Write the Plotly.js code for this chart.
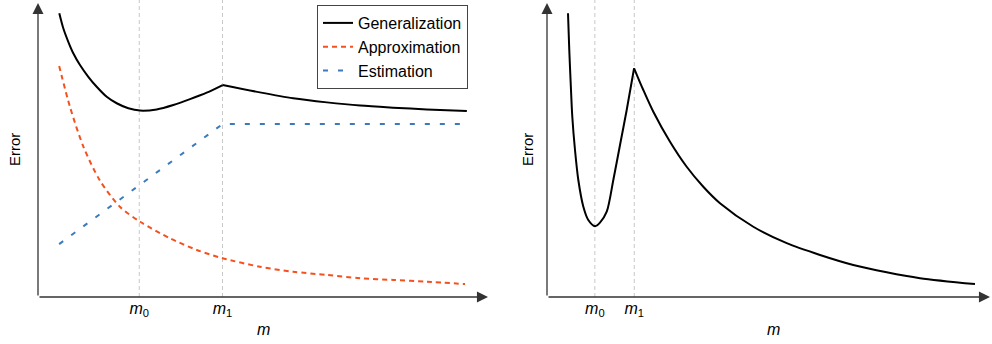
<!DOCTYPE html>
<html>
<head>
<meta charset="utf-8">
<script src="https://cdn.plot.ly/plotly-3.0.1.min.js"></script>
<style>html,body{margin:0;padding:0;background:#fff;}#chart{width:992px;height:344px;}</style>
</head>
<body>
<div id="chart"></div>
<script>
// ---- Data ----
// Left panel: decomposition of error
const genX1 = [0.473, 0.562, 0.673, 0.784, 0.933, 1.118, 1.304, 1.527, 1.749, 2.007, 2.267, 2.638, 3.007, 3.378, 3.749, 4.104];
const genY1 = [9.65, 9.14, 8.68, 8.29, 7.89, 7.49, 7.15, 6.81, 6.59, 6.42, 6.34, 6.38, 6.53, 6.73, 6.95, 7.21];
const genX2 = [4.104, 4.93, 5.67, 6.42, 7.16, 7.89, 8.64, 9.53];
const genY2 = [7.21, 6.96, 6.76, 6.62, 6.51, 6.44, 6.38, 6.33];
const apprX = [0.47, 0.71, 1.01, 1.38, 1.82, 2.27, 2.93, 3.53, 4.10, 4.93, 5.67, 6.42, 7.16, 7.90, 8.64, 9.49];
const apprY = [7.86, 6.47, 5.11, 3.95, 3.07, 2.56, 2.00, 1.60, 1.32, 1.03, 0.86, 0.75, 0.64, 0.58, 0.52, 0.44];
const estX = [0.47, 4.10, 9.49];
const estY = [1.80, 5.88, 5.88];
const leftMarks = [2.25, 4.10];            // m0, m1
// Right panel: generalization error with sharp peak
const rX1 = [0.474, 0.503, 0.535, 0.571, 0.632, 0.707, 0.819, 0.932, 1.084, 1.196, 1.348, 1.497, 1.648, 1.799, 1.966];
const rY1 = [9.65, 8.40, 7.27, 6.13, 5.00, 3.98, 3.08, 2.62, 2.41, 2.53, 2.90, 3.98, 5.17, 6.36, 7.78];
const rX2 = [1.966, 2.174, 2.400, 2.777, 3.153, 3.528, 3.905, 4.657, 5.411, 6.163, 6.914, 7.668, 8.420, 9.661];
const rY2 = [7.78, 7.04, 6.30, 5.28, 4.43, 3.75, 3.19, 2.39, 1.83, 1.43, 1.09, 0.84, 0.64, 0.44];
const rightMarks = [1.08, 1.97];          // m0, m1
const markLabels = ['<i>m</i><sub>0</sub>', '<i>m</i><sub>1</sub>'];
const seriesNames = ['Generalization', 'Approximation', 'Estimation'];

const FONT = 'Liberation Sans, Arial, Helvetica, sans-serif';
const AX = '#333333';

const traces = [
  {x: genX1, y: genY1, name: seriesNames[0], mode: 'lines', line: {color: '#000', width: 2, shape: 'spline', smoothing: 0.8}, legendgroup: 'g', xaxis: 'x', yaxis: 'y'},
  {x: genX2, y: genY2, name: seriesNames[0], mode: 'lines', line: {color: '#000', width: 2, shape: 'spline', smoothing: 0.8}, legendgroup: 'g', showlegend: false, xaxis: 'x', yaxis: 'y'},
  {x: apprX, y: apprY, name: seriesNames[1], mode: 'lines', line: {color: '#f4511e', width: 2, dash: '5px,4px', shape: 'spline', smoothing: 0.8}, xaxis: 'x', yaxis: 'y'},
  {x: estX, y: estY, name: seriesNames[2], mode: 'lines', line: {color: '#3b7bbd', width: 2, dash: '5px,10px'}, xaxis: 'x', yaxis: 'y'},
  {x: rX1, y: rY1, mode: 'lines', line: {color: '#000', width: 2, shape: 'spline', smoothing: 0.8}, showlegend: false, xaxis: 'x2', yaxis: 'y2'},
  {x: rX2, y: rY2, mode: 'lines', line: {color: '#000', width: 2, shape: 'spline', smoothing: 0.8}, showlegend: false, xaxis: 'x2', yaxis: 'y2'}
];

const shapes = [];
leftMarks.forEach(m => shapes.push({type: 'line', xref: 'x', yref: 'paper', x0: m, x1: m, y0: 0.1366, y1: 1.0, line: {color: '#c8c8c8', width: 1, dash: '4px,3px'}, layer: 'below'}));
rightMarks.forEach(m => shapes.push({type: 'line', xref: 'x2', yref: 'paper', x0: m, x1: m, y0: 0.1366, y1: 1.0, line: {color: '#c8c8c8', width: 1, dash: '4px,3px'}, layer: 'below'}));

function arrow(xref, yref, x, y, ax, ay) {
  return {xref: xref, yref: yref, x: x, y: y, ax: ax, ay: ay, axref: 'pixel', ayref: 'pixel', text: '', showarrow: true,
          arrowhead: 2, arrowsize: 1.7, arrowwidth: 1.3, arrowcolor: AX, standoff: 0, startstandoff: 0};
}

const annotations = [
  arrow('x', 'y', 0, 10, 0, 294),
  arrow('x', 'y', 10, 0, -450, 0),
  arrow('x2', 'y2', 0, 10, 0, 294),
  arrow('x2', 'y2', 10, 0, -443, 0),
  {xref: 'paper', yref: 'paper', x: 14/992, y: (344-150)/344, xanchor: 'center', yanchor: 'middle', text: 'Error', textangle: -90, showarrow: false, font: {family: FONT, size: 15, color: '#000'}},
  {xref: 'paper', yref: 'paper', x: 527/992, y: (344-150)/344, xanchor: 'center', yanchor: 'middle', text: 'Error', textangle: -90, showarrow: false, font: {family: FONT, size: 15, color: '#000'}},
  {xref: 'paper', yref: 'paper', x: 263/992, y: (344-329)/344, xanchor: 'center', yanchor: 'middle', text: '<i>m</i>', showarrow: false, font: {family: FONT, size: 16, color: '#000'}},
  {xref: 'paper', yref: 'paper', x: 773/992, y: (344-329)/344, xanchor: 'center', yanchor: 'middle', text: '<i>m</i>', showarrow: false, font: {family: FONT, size: 16, color: '#000'}}
];

const xcommon = {range: [0, 10], showgrid: false, zeroline: false, showline: false, ticks: '', fixedrange: true,
                 ticktext: markLabels, tickmode: 'array', tickfont: {family: FONT, size: 16, color: '#000'}};
const ycommon = {range: [0, 10], showgrid: false, zeroline: false, showline: false, ticks: '', showticklabels: false, fixedrange: true};

const layout = {
  width: 992, height: 344,
  margin: {l: 0, r: 0, t: 0, b: 0},
  paper_bgcolor: '#fff', plot_bgcolor: '#fff',
  font: {family: FONT, size: 16, color: '#000'},
  xaxis: Object.assign({}, xcommon, {domain: [38/992, 488/992], tickvals: leftMarks, anchor: 'y'}),
  yaxis: Object.assign({}, ycommon, {domain: [0.1366, 0.9913], anchor: 'x'}),
  xaxis2: Object.assign({}, xcommon, {domain: [547/992, 990/992], tickvals: rightMarks, anchor: 'y2'}),
  yaxis2: Object.assign({}, ycommon, {domain: [0.1366, 0.9913], anchor: 'x2'}),
  showlegend: true,
  legend: {x: 317/992, y: (344-5)/344, xanchor: 'left', yanchor: 'top', bordercolor: '#444', borderwidth: 1, bgcolor: '#fff',
           font: {family: FONT, size: 16, color: '#000'}, tracegroupgap: 0, itemwidth: 30},
  shapes: shapes,
  annotations: annotations
};

Plotly.newPlot('chart', traces, layout, {staticPlot: true, displayModeBar: false});
</script>
</body>
</html>
